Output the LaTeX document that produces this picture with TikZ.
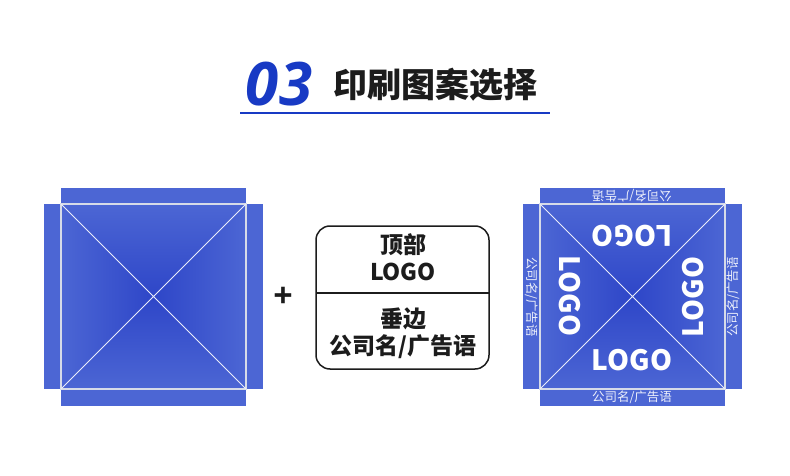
\documentclass[tikz,border=0pt]{standalone}
\usepackage{fontspec}
\newfontfamily\cjk{Noto Sans CJK SC}
\newfontfamily\numfont{Open Sans}
\usepackage{tikz}
\usetikzlibrary{positioning}
\definecolor{tentblue}{RGB}{76,102,212}
\definecolor{tentdark}{RGB}{46,70,200}
\definecolor{titleblue}{RGB}{24,58,196}
\definecolor{seamgray}{RGB}{214,219,232}
\definecolor{inkblack}{RGB}{28,28,28}

\begin{document}
\begin{tikzpicture}[
  x=1pt, y=-1pt,
  every node/.style={inner sep=0pt},
  flap/.style={fill=tentblue},
  seam/.style={draw=seamgray, line width=1.4pt},
  ridge/.style={draw=white!88!tentblue, line width=1pt},
  logo/.style={font=\cjk\bfseries\fontsize{28}{30}\selectfont, text=white},
  edgetext/.style={font=\cjk\fontsize{12.5}{14}\selectfont, text=white!90!tentblue},
  boxtext/.style={font=\cjk\bfseries\fontsize{23}{26}\selectfont, text=inkblack}
]
\useasboundingbox[fill=white] (0,0) rectangle (790,476);

%% ── TITLE ───────────────────────────────────────────────────────
\node[font=\numfont\bfseries\itshape\fontsize{60}{62}\selectfont, titleblue]
  (num) at (279,84) {03};
\node[font=\cjk\bfseries\fontsize{34}{38}\selectfont, inkblack]
  (title) at (435,85) {印刷图案选择};
\coordinate (rule-l) at (240,113);
\coordinate (rule-r) at (550,113);
\draw[titleblue, line width=1.5pt] (rule-l) -- (rule-r);

%% ── TENT ROOFS (plain / printed) ────────────────────────────────
\foreach \t/\ox in {plain/61, print/540}{
  \coordinate (\t-nw) at (\ox,204);
  \coordinate (\t-ne) at (\ox+185,204);
  \coordinate (\t-sw) at (\ox,389);
  \coordinate (\t-se) at (\ox+185,389);
  \coordinate (\t-c) at (\ox+92.5,296.5);
  % side flaps
  \fill[flap] (\ox,188) rectangle (\ox+185,204);
  \fill[flap] (\ox,389) rectangle (\ox+185,406);
  \fill[flap] (\ox-17,204) rectangle (\ox,389);
  \fill[flap] (\ox+185,204) rectangle (\ox+202,389);
  % roof panels
  \shade[top color=tentblue, bottom color=tentdark]
    (\t-nw) -- (\t-ne) -- (\t-c) -- cycle;
  \shade[bottom color=tentblue, top color=tentdark]
    (\t-sw) -- (\t-se) -- (\t-c) -- cycle;
  \shade[left color=tentblue, right color=tentdark]
    (\t-nw) -- (\t-sw) -- (\t-c) -- cycle;
  \shade[right color=tentblue, left color=tentdark]
    (\t-ne) -- (\t-se) -- (\t-c) -- cycle;
  \draw[seam] (\t-nw) rectangle (\t-se);
  \draw[ridge] (\t-nw) -- (\t-se) (\t-ne) -- (\t-sw);
}

%% ── PLUS ────────────────────────────────────────────────────────
\node[font=\numfont\bfseries\fontsize{34}{36}\selectfont, inkblack]
  (plus) at (283,297) {+};

%% ── LEGEND PANEL ────────────────────────────────────────────────
\node[draw=inkblack, line width=1.5pt, rounded corners=14pt,
      minimum width=173pt, minimum height=143pt] (panel) at (402.5,297.5) {};
\coordinate (split-l) at (316,293);
\coordinate (split-r) at (489,293);
\draw[inkblack, line width=1.3pt] (split-l) -- (split-r);
\node[boxtext] (top-name) at (403,245) {顶部};
\node[boxtext] (top-logo) at (403,272) {LOGO};
\node[boxtext] (edge-name) at (403,319) {垂边};
\node[boxtext] (edge-slogan) at (403,347) {公司名/广告语};

%% ── PRINTED ROOF TEXTS ──────────────────────────────────────────
\node[logo, rotate=180] (logo-n) at (632,236) {LOGO};
\node[logo] (logo-s) at (632,360) {LOGO};
\node[logo, rotate=-90] (logo-w) at (570,296) {LOGO};
\node[logo, rotate=90] (logo-e) at (693,297) {LOGO};

\node[edgetext, rotate=180] (slogan-n) at (632,196) {公司名/广告语};
\node[edgetext] (slogan-s) at (632,397) {公司名/广告语};
\node[edgetext, rotate=-90] (slogan-w) at (532,297) {公司名/广告语};
\node[edgetext, rotate=90] (slogan-e) at (733,297) {公司名/广告语};

\end{tikzpicture}
\end{document}
